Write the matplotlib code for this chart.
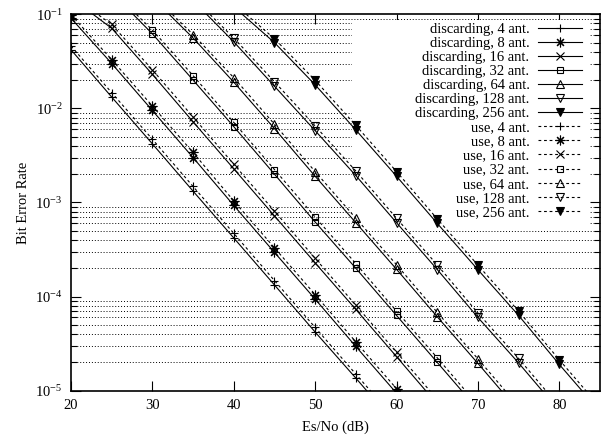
import matplotlib
matplotlib.use("Agg")
import matplotlib.pyplot as plt
from matplotlib.patches import Rectangle
from matplotlib.ticker import LogLocator, NullLocator, NullFormatter, MultipleLocator

plt.rcParams['font.family'] = ['Liberation Serif', 'DejaVu Serif']
plt.rcParams['mathtext.fontset'] = 'custom'
plt.rcParams['mathtext.rm'] = 'Liberation Serif'
plt.rcParams['mathtext.it'] = 'Liberation Serif:italic'
plt.rcParams['font.size'] = 10.5

antennas = [4, 8, 16, 32, 64, 128, 256]
markers = ['+', (8, 2, 0), 'x', 's', '^', 'v', 'v']
marker_size = [6, 7, 5.5, 5, 5.5, 5.5, 5.5]
filled = [False, False, False, False, False, False, True]

# Es/No start point (dB) of each curve, points every 5 dB
snr_start = [20, 20, 20, 25, 30, 35, 40]

ber_discard = [
    [0.042, 0.0132, 0.0042, 0.00132, 4.2e-4, 1.33e-4, 4.2e-5, 1.36e-5, 4.3e-6],
    [0.091, 0.030, 0.0095, 0.0030, 9.3e-4, 2.95e-4, 9.4e-5, 2.95e-5, 9.4e-6],
    [0.15, 0.071, 0.023, 0.0072, 0.00228, 7.2e-4, 2.28e-4, 7.3e-5, 2.3e-5, 7.2e-6],
    [0.17, 0.062, 0.020, 0.0064, 0.0020, 6.2e-4, 2.0e-4, 6.3e-5, 2.0e-5, 6.3e-6],
    [0.15, 0.056, 0.019, 0.0061, 0.0019, 6.1e-4, 1.95e-4, 6.1e-5, 1.95e-5, 6.1e-6],
    [0.14, 0.051, 0.0172, 0.0058, 0.00193, 6.1e-4, 1.94e-4, 6.0e-5, 1.97e-5, 6.1e-6],
    [0.12, 0.050, 0.0178, 0.0059, 0.0019, 6.0e-4, 1.93e-4, 6.3e-5, 1.9e-5, 6.0e-6],
]

ber_use = [
    [0.046, 0.0147, 0.0047, 0.00148, 4.7e-4, 1.48e-4, 4.7e-5, 1.5e-5, 4.8e-6],
    [0.099, 0.033, 0.0106, 0.0034, 1.04e-3, 3.3e-4, 1.05e-4, 3.3e-5, 1.05e-5],
    [0.16, 0.078, 0.0257, 0.0081, 0.00255, 8.1e-4, 2.55e-4, 8.1e-5, 2.56e-5, 8.1e-6],
    [0.18, 0.068, 0.0223, 0.0071, 0.00224, 7.0e-4, 2.24e-4, 7.0e-5, 2.24e-5, 7.0e-6],
    [0.16, 0.061, 0.0212, 0.0068, 0.00213, 6.8e-4, 2.18e-4, 6.8e-5, 2.18e-5, 6.8e-6],
    [0.15, 0.056, 0.0192, 0.0065, 0.00216, 6.8e-4, 2.17e-4, 6.7e-5, 2.2e-5, 6.8e-6],
    [0.13, 0.055, 0.0199, 0.0066, 0.00213, 6.7e-4, 2.16e-4, 7.0e-5, 2.13e-5, 6.7e-6],
]

fig = plt.figure(figsize=(6.06, 4.40), dpi=100)
ax = fig.add_axes([71 / 606, 1 - 390.7 / 440, 529 / 606, 376.4 / 440])

handles_d, handles_u = [], []
for i, n in enumerate(antennas):
    for ber, ls, store, kind in ((ber_discard[i], '-', handles_d, 'discarding'),
                                 (ber_use[i], (0, (2.5, 2.5)), handles_u, 'use')):
        x = [snr_start[i] + 5 * k for k in range(len(ber))]
        line, = ax.plot(x, ber, color='black', ls=ls, lw=0.8,
                        marker=markers[i], ms=marker_size[i],
                        mew=0.8, mfc='black' if filled[i] else 'none', mec='black',
                        label=f'{kind}, {n} ant.', zorder=2)
        store.append(line)

ax.set_yscale('log')
ax.set_xlim(20, 85)
ax.set_ylim(1e-5, 1e-1)
ax.xaxis.set_major_locator(MultipleLocator(10))
ax.xaxis.set_minor_locator(NullLocator())
ax.yaxis.set_major_locator(LogLocator(base=10))
ax.yaxis.set_minor_locator(LogLocator(base=10, subs=range(2, 10)))
ax.yaxis.set_minor_formatter(NullFormatter())
ax.tick_params(which='both', direction='in', top=True, right=True, width=0.8)
ax.tick_params(which='major', length=7, pad=6)
ax.tick_params(which='minor', length=4)
for s in ax.spines.values():
    s.set_linewidth(1.2)

ax.set_axisbelow(True)
ax.yaxis.grid(True, which='minor', ls=(0, (1, 2)), lw=0.7, color='black')
ax.yaxis.grid(False, which='major')

# opaque key area covers the grid but not the curves
ax.add_patch(Rectangle((0.531, 0.4376), 0.45, 0.547, transform=ax.transAxes,
                       facecolor='white', edgecolor='none', zorder=1))

leg = ax.legend(handles=handles_d + handles_u, loc='upper right',
                bbox_to_anchor=(0.966, 0.978), frameon=False, markerfirst=False,
                handlelength=3.0, handletextpad=0.6, labelspacing=0.06,
                borderpad=0, borderaxespad=0)
leg.set_zorder(3)

ax.set_xlabel('Es/No (dB)', labelpad=6)
ax.set_ylabel('Bit Error Rate', labelpad=4)

fig.savefig('out.png', dpi=100)
